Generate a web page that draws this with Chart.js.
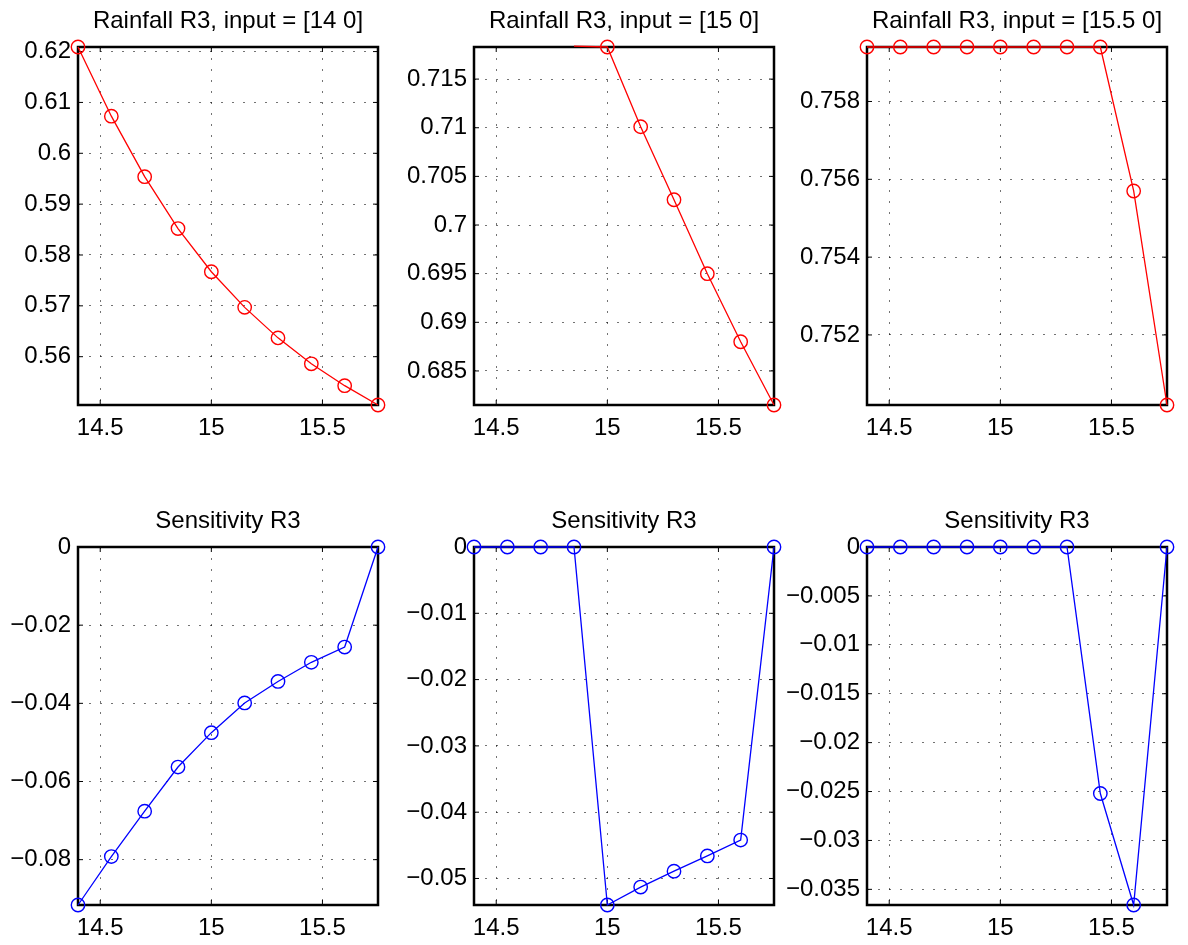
<!DOCTYPE html>
<html lang="en">
<head>
<meta charset="UTF-8">
<title>Rainfall R3 - sensitivity</title>
<script src="https://cdn.jsdelivr.net/npm/chart.js"></script>
<style>
  body { margin: 0; background: #fff; width: 1188px; height: 945px; overflow: hidden; position: relative; }
  .panel { position: absolute; width: 402px; height: 450px; }
</style>
</head>
<body>

<div class="panel" id="box0"><canvas id="c0"></canvas></div>
<div class="panel" id="box1"><canvas id="c1"></canvas></div>
<div class="panel" id="box2"><canvas id="c2"></canvas></div>
<div class="panel" id="box3"><canvas id="c3"></canvas></div>
<div class="panel" id="box4"><canvas id="c4"></canvas></div>
<div class="panel" id="box5"><canvas id="c5"></canvas></div>

<script>
// x positions shared by every subplot
const xValues = [14.4, 14.55, 14.7, 14.85, 15, 15.15, 15.3, 15.45, 15.6, 15.75];
const xTicks = [14.5, 15, 15.5];

// top row: rainfall R3
const rain14 = [0.6209, 0.6073, 0.5954, 0.5852, 0.5767, 0.5697, 0.5637, 0.5586, 0.5543, 0.5505];
const rain15 = [0.7184, 0.7184, 0.7184, 0.7184, 0.7183, 0.7101, 0.7026, 0.6950, 0.6880, 0.6815];
const rain155 = [0.7594, 0.7594, 0.7594, 0.7594, 0.7594, 0.7594, 0.7594, 0.7594, 0.7557, 0.7502];
const rain15Top = 0.7183; // y limit of the middle plot, first points sit above it

// bottom row: sensitivity R3
const sens14 = [-0.0916, -0.0792, -0.0676, -0.0563, -0.0475, -0.0399, -0.0344, -0.0295, -0.0256, 0];
const sens15 = [0, 0, 0, 0, -0.0540, -0.0513, -0.0489, -0.0466, -0.0442, 0];
const sens155 = [0, 0, 0, 0, 0, 0, 0, -0.0252, -0.0366, 0];

// y tick labels
const rainTicks14 = [0.56, 0.57, 0.58, 0.59, 0.6, 0.61, 0.62];
const rainTicks15 = [0.685, 0.69, 0.695, 0.7, 0.705, 0.71, 0.715];
const rainTicks155 = [0.752, 0.754, 0.756, 0.758];
const sensTicks14 = [-0.08, -0.06, -0.04, -0.02, 0];
const sensTicks15 = [-0.05, -0.04, -0.03, -0.02, -0.01, 0];
const sensTicks155 = [-0.035, -0.03, -0.025, -0.02, -0.015, -0.01, -0.005, 0];

const RED = '#ff0000';
const BLUE = '#0000ff';

const panels = [
  { title: 'Rainfall R3, input = [14 0]',   values: rain14,  ticks: rainTicks14,  color: RED },
  { title: 'Rainfall R3, input = [15 0]',   values: rain15,  ticks: rainTicks15,  color: RED, top: rain15Top },
  { title: 'Rainfall R3, input = [15.5 0]', values: rain155, ticks: rainTicks155, color: RED },
  { title: 'Sensitivity R3', values: sens14,  ticks: sensTicks14,  color: BLUE },
  { title: 'Sensitivity R3', values: sens15,  ticks: sensTicks15,  color: BLUE },
  { title: 'Sensitivity R3', values: sens155, ticks: sensTicks155, color: BLUE }
];

// plot-area corners on the page
const plotLeft = [78, 474, 867];
const plotTop = [47, 547];
const AXIS_W = 90, TITLE_H = 47;

Chart.defaults.font.family = '"Liberation Sans", Arial, Helvetica, sans-serif';
Chart.defaults.font.size = 24;
Chart.defaults.color = '#000';

function fmt(v) {
  return String(parseFloat(v.toFixed(4))).replace('-', '\u2212');
}

// matlab style box + inward tick marks
const matlabBox = {
  id: 'matlabBox',
  beforeDatasetsDraw(chart) {
    const { ctx, chartArea: a, scales } = chart;
    ctx.save();
    ctx.strokeStyle = '#000';
    ctx.lineWidth = 1;
    ctx.beginPath();
    scales.x.ticks.forEach(t => {
      const px = scales.x.getPixelForValue(t.value);
      ctx.moveTo(px, a.bottom); ctx.lineTo(px, a.bottom - 5);
      ctx.moveTo(px, a.top); ctx.lineTo(px, a.top + 5);
    });
    scales.y.ticks.forEach(t => {
      const py = scales.y.getPixelForValue(t.value);
      ctx.moveTo(a.left, py); ctx.lineTo(a.left + 5, py);
      ctx.moveTo(a.right, py); ctx.lineTo(a.right - 5, py);
    });
    ctx.stroke();
    ctx.lineWidth = 2.5;
    ctx.strokeRect(a.left, a.top, a.right - a.left, a.bottom - a.top);
    ctx.restore();
  }
};

panels.forEach((p, i) => {
  const box = document.getElementById('box' + i);
  box.style.left = (plotLeft[i % 3] - AXIS_W) + 'px';
  box.style.top = (plotTop[Math.floor(i / 3)] - TITLE_H) + 'px';

  const ymin = Math.min(...p.values);
  const ymax = p.top !== undefined ? p.top : Math.max(...p.values);
  const out = y => y > ymax + 1e-9 || y < ymin - 1e-9;

  new Chart(document.getElementById('c' + i), {
    type: 'line',
    data: {
      datasets: [{
        data: xValues.map((x, k) => ({ x: x, y: p.values[k] })),
        borderColor: p.color,
        borderWidth: 1.3,
        pointStyle: 'circle',
        pointRadius: ctx => (ctx.raw && out(ctx.raw.y)) ? 0 : 6.7,
        pointBorderColor: p.color,
        pointBackgroundColor: 'rgba(0,0,0,0)',
        pointBorderWidth: 1.4,
        clip: false,
        segment: {
          borderColor: ctx => (out(ctx.p0.parsed.y) && out(ctx.p1.parsed.y)) ? 'rgba(0,0,0,0)' : undefined
        }
      }]
    },
    options: {
      animation: false,
      responsive: true,
      maintainAspectRatio: false,
      events: [],
      layout: { padding: { right: 12 } },
      plugins: {
        legend: { display: false },
        tooltip: { enabled: false },
        title: {
          display: true,
          text: p.title,
          fullSize: false,
          font: { size: 24, weight: 'normal' },
          color: '#000',
          padding: { top: 7, bottom: 11.2 }
        }
      },
      scales: {
        x: {
          type: 'linear',
          min: 14.4,
          max: 15.75,
          afterBuildTicks: s => { s.ticks = xTicks.map(v => ({ value: v })); },
          afterFit: s => { s.height = 45; },
          ticks: { padding: 9, callback: v => fmt(v), maxRotation: 0 },
          grid: { color: 'rgba(0,0,0,0.55)', drawTicks: false, lineWidth: 1 },
          border: { display: false, dash: [2, 9] }
        },
        y: {
          type: 'linear',
          min: ymin,
          max: ymax,
          afterBuildTicks: s => { s.ticks = p.ticks.map(v => ({ value: v })); },
          afterFit: s => { s.width = AXIS_W; },
          ticks: { padding: 7, callback: v => fmt(v) },
          grid: { color: 'rgba(0,0,0,0.55)', drawTicks: false, lineWidth: 1 },
          border: { display: false, dash: [2, 9] }
        }
      }
    },
    plugins: [matlabBox]
  });
});
</script>

</body>
</html>
